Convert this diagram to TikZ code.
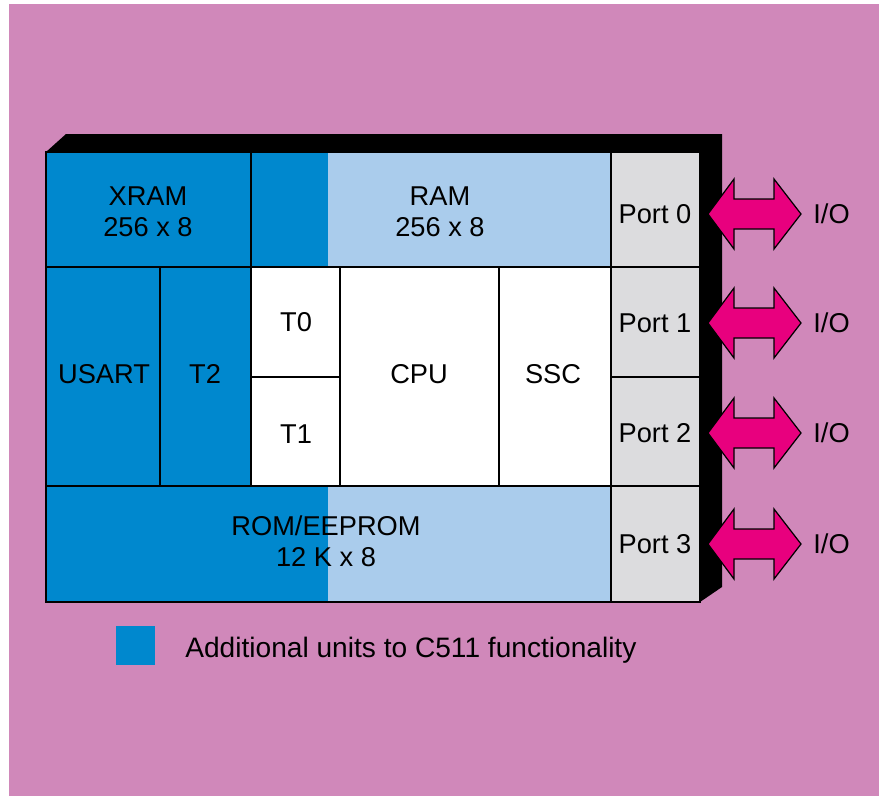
\documentclass[tikz,border=0pt]{standalone}
\usepackage{fontspec}
\setmainfont{Liberation Sans}
\definecolor{bgpink}{HTML}{D088BA}
\definecolor{unitblue}{HTML}{0088CE}
\definecolor{ramblue}{HTML}{AACCEC}
\definecolor{portgrey}{HTML}{DCDCDE}
\definecolor{iomagenta}{HTML}{E8007E}
\tikzset{
  cell/.style={draw=black, line width=1pt},
  lbl/.style={font=\fontsize{15.5}{17.6}\selectfont, align=center, inner sep=0pt},
  ioarrow/.style={fill=iomagenta, draw=black, line width=0.7pt, line join=miter},
}
\begin{document}
\begin{tikzpicture}[x=0.02cm,y=-0.02cm]
    % Background
    \fill[white] (0,0) rectangle (879,796);
    \fill[bgpink] (9,4) rectangle (879,796);
    \useasboundingbox (0,0) rectangle (879,796);

    % Shadow of the chip
    \fill[black] (46,152) -- (66,134) -- (722,134) -- (722,587) -- (700,602) -- (46,602) -- cycle;

    % Cell fills
    \fill[unitblue] (46,152) rectangle (328,267);
    \fill[ramblue] (328,152) rectangle (611,267);
    \fill[unitblue] (46,267) rectangle (251,486);
    \fill[white] (251,267) rectangle (611,486);
    \fill[unitblue] (46,486) rectangle (328,602);
    \fill[ramblue] (328,486) rectangle (611,602);
    \fill[portgrey] (611,152) rectangle (700,602);

    % Cell borders
    \draw[cell] (46,152) rectangle (700,602);
    \draw[cell] (46,267) -- (700,267);
    \draw[cell] (46,486) -- (700,486);
    \draw[cell] (611,152) -- (611,602);
    \draw[cell] (251,152) -- (251,486);
    \draw[cell] (160,267) -- (160,486);
    \draw[cell] (340,267) -- (340,486);
    \draw[cell] (499,267) -- (499,486);
    \draw[cell] (251,377) -- (340,377);
    \draw[cell] (611,377) -- (700,377);

    % Unit labels
    \node[lbl] (xram) at (148,212) {XRAM\\256 x 8};
    \node[lbl] (ram) at (440,212) {RAM\\256 x 8};
    \node[lbl] (usart) at (104,374) {USART};
    \node[lbl] (t2) at (205,374) {T2};
    \node[lbl] (t0) at (296,322) {T0};
    \node[lbl] (t1) at (296,434) {T1};
    \node[lbl] (cpu) at (419,374) {CPU};
    \node[lbl] (ssc) at (553,374) {SSC};
    \node[lbl] (rom) at (326,541) {ROM/EEPROM\\12 K x 8};

    % Ports with I/O arrows
    \foreach \n/\y in {0/214,1/323,2/433,3/544} {
      \node[lbl] (port\n) at (655,\y) {Port \n};
      \draw[ioarrow] (708,\y) -- (734,\y-35) -- (734,\y-15) -- (774,\y-15) -- (774,\y-35)
        -- (801,\y) -- (774,\y+35) -- (774,\y+15) -- (734,\y+15) -- (734,\y+35) -- cycle;
      \node[lbl, anchor=west] (io\n) at (813,\y) {I/O};
    }

    % Legend
    \fill[unitblue] (116,626) rectangle (155,665);
    \node[lbl, anchor=base west, font=\fontsize{16}{18}\selectfont] (key) at (185,657) {Additional units to C511 functionality};
\end{tikzpicture}
\end{document}
